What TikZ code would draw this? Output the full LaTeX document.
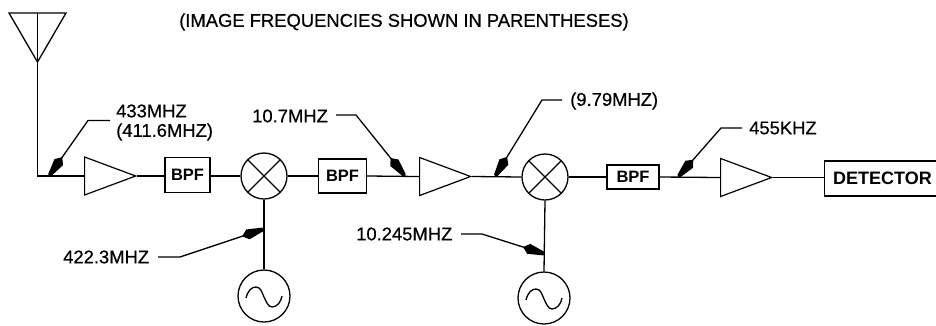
\documentclass[tikz,border=0pt]{standalone}
\usepackage{fontspec}
\setmainfont{Liberation Sans}
\newfontfamily\lblfont[RawFeature={embolden=0.5}]{Liberation Sans}
\usetikzlibrary{shapes.geometric,calc}
\tikzset{
  wire/.style={line width=1.3pt,black},
  lead/.style={line width=1.3pt,black},
  amp/.style={draw,line width=1.2pt,isosceles triangle,isosceles triangle stretches,inner sep=0pt,minimum width=38pt,minimum height=51pt,anchor=lower side},
  filt/.style={draw,line width=1.2pt,rectangle,inner sep=0pt,font=\fontsize{16.5}{18}\selectfont\bfseries},
  disc/.style={draw,line width=1.3pt,circle,inner sep=0pt},
  lbl/.style={font=\lblfont\fontsize{18.4}{20}\selectfont,inner sep=0pt,text=black},
}
\newcommand{\sinewave}[1]{\draw[line width=1.3pt] ($(#1)+(-18,2)$) .. controls ($(#1)+(-16,-6)$) and ($(#1)+(-12,-9)$) .. ($(#1)+(-8,-9)$) .. controls ($(#1)+(-3,-9)$) and ($(#1)+(-2,-3)$) .. ($(#1)+(0,1)$) .. controls ($(#1)+(2,5)$) and ($(#1)+(4,11)$) .. ($(#1)+(8,11)$) .. controls ($(#1)+(13,11)$) and ($(#1)+(17,6)$) .. ($(#1)+(18,0)$);}
\newcommand{\leader}[3]{%
  \draw[lead] (#1) -- (#2) -- (#3);
  \fill[black] ($(#3)!1pt!(#2)!1.8pt!90:(#2)$) -- ($(#3)!17pt!(#2)!5.2pt!90:(#2)$) -- ($(#3)!23pt!(#2)$) -- ($(#3)!17pt!(#2)!5.2pt!-90:(#2)$) -- ($(#3)!1pt!(#2)!1.8pt!-90:(#2)$) -- cycle;}
\begin{document}
\begin{tikzpicture}[x=1pt,y=-1pt]
\useasboundingbox (0,0) rectangle (936,325);
\clip (0,0) rectangle (936,325);
% antenna
\coordinate (anttl) at (9,13);
\coordinate (anttr) at (66,13);
\coordinate (anttop) at (37.5,13);
\coordinate (anttip) at (37.5,62);
\coordinate (corner) at (37.5,176);
\draw[line width=1.3pt,line join=miter] (anttl) -- (anttr) -- (anttip) -- cycle;
\draw[line width=.8pt] (anttop) -- (anttip);
% chain
\node[amp] (ampa) at (84,176) {};
\node[filt,minimum width=45pt,minimum height=35pt] (bpfa) at (187.5,175) {BPF};
\node[disc,minimum size=46pt] (mixa) at (264,176) {};
\node[filt,minimum width=48pt,minimum height=34pt] (bpfb) at (342.5,176) {BPF};
\node[amp] (ampb) at (419,176.5) {};
\node[disc,minimum size=46pt] (mixb) at (545,177) {};
\node[filt,minimum width=52pt,minimum height=24pt] (bpfc) at (633,177) {BPF};
\node[amp] (ampc) at (720,177.5) {};
\node[draw,line width=1.2pt,rectangle,inner sep=0pt,minimum width=130pt,minimum height=35pt,anchor=west] (det) at (824,178.5) {};
\node[inner sep=0pt,font=\fontsize{18}{20}\selectfont\bfseries,anchor=west] (dettext) at (833,178.5) {DETECTOR};
\node[disc,minimum size=52pt] (osca) at (264,296) {};
\node[disc,minimum size=52pt] (oscb) at (544,298) {};
\foreach \m in {mixa,mixb}{
  \draw[line width=1.3pt] (\m.45) -- (\m.225);
  \draw[line width=1.3pt] (\m.135) -- (\m.315);
}
\sinewave{osca}
\sinewave{oscb}
% wires
\draw[wire] (anttip) -- (corner) -- (ampa.lower side);
\draw[wire] (ampa.apex) -- (bpfa.west |- ampa.apex);
\draw[wire] (bpfa.east |- mixa.west) -- (mixa.west);
\draw[wire] (mixa.east) -- (bpfb.west);
\draw[wire] (bpfb.east) -- (ampb.lower side);
\draw[wire] (ampb.apex) -- (mixb.west);
\draw[wire] (mixb.east) -- (bpfc.west);
\draw[wire] (bpfc.east) -- (ampc.lower side);
\draw[wire] (ampc.apex) -- (det.west |- ampc.apex);
\draw[wire] (mixa.south) -- (osca.north);
\draw[wire] (mixb.south) -- (oscb.north);
% labels
\node[lbl,anchor=west] (title) at (179,22) {(IMAGE FREQUENCIES SHOWN IN PARENTHESES)};
\node[lbl,anchor=west] (la) at (116,111) {433MHZ};
\node[lbl,anchor=west] (lb) at (116,132) {(411.6MHZ)};
\node[lbl,anchor=west] (lc) at (252,116) {10.7MHZ};
\node[lbl,anchor=west] (ld) at (570,101) {(9.79MHZ)};
\node[lbl,anchor=west] (le) at (749,128) {455KHZ};
\node[lbl,anchor=west] (lf) at (63,257) {422.3MHZ};
\node[lbl,anchor=west] (lg) at (356,234) {10.245MHZ};
% leaders
\coordinate (ta) at (49,176);
\coordinate (tc) at (405,176);
\coordinate (td) at (495,176.5);
\coordinate (te) at (678,177);
\coordinate (tf) at (264,229);
\coordinate (tg) at (545,254);
\coordinate (sa) at (110,120.5);
\coordinate (sc) at (336,115);
\coordinate (sd) at (562,100);
\coordinate (se) at (742,128);
\coordinate (sf) at (158,257);
\coordinate (sg) at (461,234);
\coordinate (ka) at (88,120.5);
\coordinate (kc) at (356,115);
\coordinate (kd) at (542,100);
\coordinate (ke) at (721,128);
\coordinate (kf) at (180,257);
\coordinate (kg) at (482,234);
\leader{sa}{ka}{ta}
\leader{sc}{kc}{tc}
\leader{sd}{kd}{td}
\leader{se}{ke}{te}
\leader{sf}{kf}{tf}
\leader{sg}{kg}{tg}
\end{tikzpicture}
\end{document}
